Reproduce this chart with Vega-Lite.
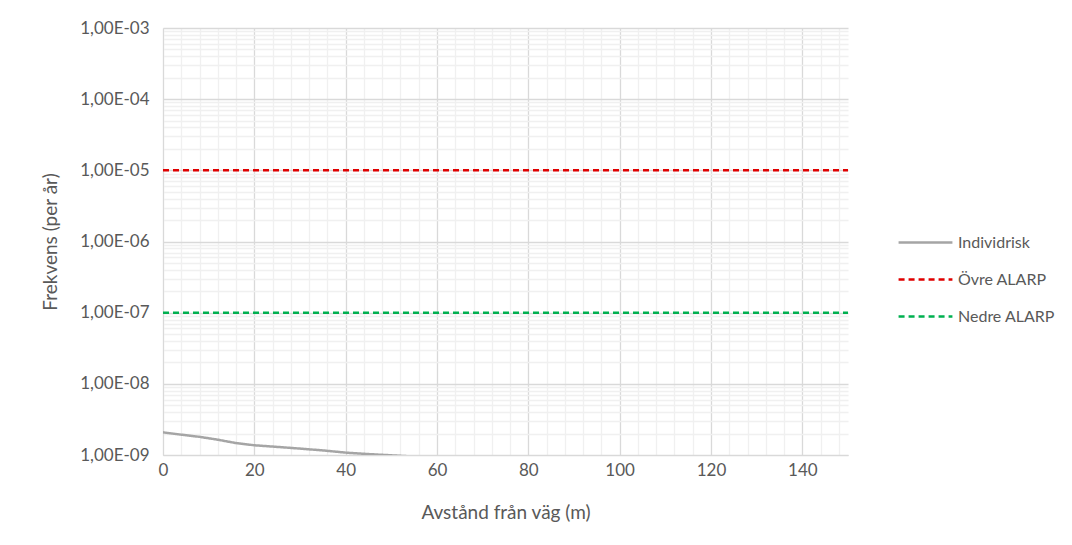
{
  "$schema": "https://vega.github.io/schema/vega-lite/v6.json",
  "autosize": {"type": "none"},
  "width": 685,
  "height": 427,
  "padding": {"left": 163, "top": 28, "right": 224, "bottom": 90},
  "background": "white",
  "config": {
    "font": "Lato",
    "view": {"stroke": null},
    "axis": {"labelFont": "Lato", "titleFont": "Lato", "labelColor": "#595959", "titleColor": "#595959", "labelFontSize": 17, "titleFontSize": 19, "titleFontWeight": "normal", "labelFlush": false}
  },
  "data": {
    "values": [
      {"serie": "Individrisk", "x": 0, "y": 2.08e-9},
      {"serie": "Individrisk", "x": 4, "y": 1.93e-9},
      {"serie": "Individrisk", "x": 8, "y": 1.8e-9},
      {"serie": "Individrisk", "x": 12, "y": 1.64e-9},
      {"serie": "Individrisk", "x": 16, "y": 1.47e-9},
      {"serie": "Individrisk", "x": 20, "y": 1.37e-9},
      {"serie": "Individrisk", "x": 25, "y": 1.30e-9},
      {"serie": "Individrisk", "x": 30, "y": 1.23e-9},
      {"serie": "Individrisk", "x": 35, "y": 1.16e-9},
      {"serie": "Individrisk", "x": 40, "y": 1.08e-9},
      {"serie": "Individrisk", "x": 45, "y": 1.03e-9},
      {"serie": "Individrisk", "x": 50, "y": 0.99e-9},
      {"serie": "Individrisk", "x": 55, "y": 0.95e-9},
      {"serie": "Övre ALARP", "x": 0, "y": 1e-5},
      {"serie": "Övre ALARP", "x": 150, "y": 1e-5},
      {"serie": "Nedre ALARP", "x": 0, "y": 1e-7},
      {"serie": "Nedre ALARP", "x": 150, "y": 1e-7}
    ]
  },
  "mark": {"type": "line", "clip": true, "strokeWidth": 2.5},
  "encoding": {
    "x": {
      "field": "x", "type": "quantitative",
      "scale": {"domain": [0, 150], "nice": false, "zero": false},
      "title": "Avstånd från väg (m)",
      "axis": {
        "values": [0,4,8,12,16,20,24,28,32,36,40,44,48,52,56,60,64,68,72,76,80,84,88,92,96,100,104,108,112,116,120,124,128,132,136,140,144,148],
        "labelExpr": "datum.value % 20 === 0 ? datum.label : ''",
        "format": "d",
        "ticks": false,
        "labelPadding": 7,
        "titlePadding": 25,
        "domainColor": "#d9d9d9",
        "gridColor": {"condition": {"test": "datum.value % 20 === 0", "value": "#d9d9d9"}, "value": "#f0f0f0"},
        "gridWidth": 1.3
      }
    },
    "y": {
      "field": "y", "type": "quantitative",
      "scale": {"type": "log", "domain": [1e-9, 1e-3], "nice": false},
      "title": "Frekvens (per år)",
      "axis": {
        "values": [1e-9,2e-9,3e-9,4e-9,5e-9,6e-9,7e-9,8e-9,9e-9,1e-8,2e-8,3e-8,4e-8,5e-8,6e-8,7e-8,8e-8,9e-8,1e-7,2e-7,3e-7,4e-7,5e-7,6e-7,7e-7,8e-7,9e-7,1e-6,2e-6,3e-6,4e-6,5e-6,6e-6,7e-6,8e-6,9e-6,1e-5,2e-5,3e-5,4e-5,5e-5,6e-5,7e-5,8e-5,9e-5,1e-4,2e-4,3e-4,4e-4,5e-4,6e-4,7e-4,8e-4,9e-4,1e-3],
        "labelExpr": "abs(log(datum.value)/LN10 - round(log(datum.value)/LN10)) < 0.001 ? '1,00E-0' + (-round(log(datum.value)/LN10)) : ''",
        "ticks": false,
        "labelPadding": 14,
        "titlePadding": 19,
        "domainColor": "#d9d9d9",
        "gridColor": {"condition": {"test": "abs(log(datum.value)/LN10 - round(log(datum.value)/LN10)) < 0.001", "value": "#d9d9d9"}, "value": "#f0f0f0"},
        "gridWidth": 1.3
      }
    },
    "color": {
      "field": "serie", "type": "nominal",
      "scale": {"domain": ["Individrisk", "Övre ALARP", "Nedre ALARP"], "range": ["#a5a5a5", "#e00000", "#00b050"]},
      "legend": {
        "title": null,
        "orient": "none",
        "legendX": 734,
        "legendY": 186,
        "symbolType": "stroke",
        "symbolSize": 2900,
        "symbolStrokeWidth": 2.5,
        "labelFontSize": 16,
        "labelColor": "#595959",
        "labelFont": "Lato",
        "rowPadding": -19,
        "labelOffset": 4
      }
    },
    "strokeDash": {
      "field": "serie", "type": "nominal",
      "scale": {"domain": ["Individrisk", "Övre ALARP", "Nedre ALARP"], "range": [[1, 0], [6, 4], [6, 4]]},
      "legend": null
    }
  }
}
